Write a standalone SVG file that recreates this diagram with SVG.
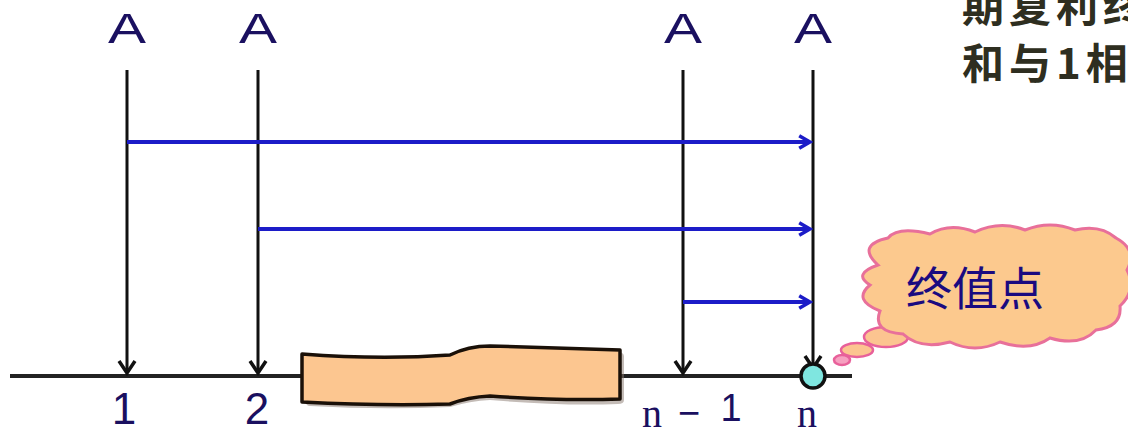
<svg xmlns="http://www.w3.org/2000/svg" width="1128" height="435" viewBox="0 0 1128 435">
<style>
.lbl{font-family:"Liberation Sans",Arial,sans-serif;fill:#1a1060;text-anchor:middle}
.ser{font-family:"Liberation Serif","Times New Roman",serif;fill:#1a1060;text-anchor:middle}
.vline{stroke:#111;stroke-width:3;fill:none}
.bline{stroke:#1c1cc8;stroke-width:4;fill:none}
.cjk{font-family:"Noto Sans CJK SC",sans-serif}
</style>
<defs>
<marker id="ab" viewBox="0 0 20 20" refX="17" refY="10" markerWidth="20" markerHeight="20" markerUnits="userSpaceOnUse" orient="auto">
<path d="M5,2 L17,10 L5,18" fill="none" stroke="#111" stroke-width="3.5"/>
</marker>
<marker id="ablue" viewBox="0 0 20 20" refX="17" refY="10" markerWidth="18" markerHeight="18" markerUnits="userSpaceOnUse" orient="auto">
<path d="M5,3 L17,10 L5,17" fill="none" stroke="#1c1cc8" stroke-width="4"/>
</marker>
</defs>
<rect width="1128" height="435" fill="#ffffff"/>

<g id="axis">
<line x1="10" y1="376" x2="852" y2="376" stroke="#222" stroke-width="4"/>
</g>

<g id="connectors">
<line class="vline" x1="127" y1="70" x2="127" y2="373" marker-end="url(#ab)"/>
<line class="vline" x1="258" y1="70" x2="258" y2="373" marker-end="url(#ab)"/>
<line class="vline" x1="683" y1="70" x2="683" y2="373" marker-end="url(#ab)"/>
<line class="vline" x1="813" y1="70" x2="813" y2="368" marker-end="url(#ab)"/>
<line class="bline" x1="127" y1="142" x2="810" y2="142" marker-end="url(#ablue)"/>
<line class="bline" x1="258" y1="229" x2="810" y2="229" marker-end="url(#ablue)"/>
<line class="bline" x1="683" y1="302" x2="810" y2="302" marker-end="url(#ablue)"/>
</g>

<g id="gap">
<path d="M306,358 Q306,355 310,355 Q380,362 450,356 Q470,349 490,348 L615,351 Q624,352 624,356 L624,400 Q624,404 618,404 Q560,406 490,400 Q470,401 450,407 Q380,410 310,406 Q306,406 306,402 Z" fill="#8a7a70" opacity="0.5"/>
<path d="M302,354 Q380,360 450,355 Q468,346 490,346 L620,350 L620,399 Q560,401 490,396 Q468,397 450,404 Q380,406 302,402 Z" fill="#fcc690" stroke="#1a1008" stroke-width="3.5" stroke-linejoin="round"/>
</g>

<g id="pointN">
<circle cx="813" cy="376" r="12" fill="#7fe6e0" stroke="#111" stroke-width="3.5"/>
</g>

<g id="labelsTop">
<text class="lbl" x="127" y="43" font-size="42" textLength="38" lengthAdjust="spacingAndGlyphs">A</text>
<text class="lbl" x="258" y="43" font-size="42" textLength="38" lengthAdjust="spacingAndGlyphs">A</text>
<text class="lbl" x="683" y="43" font-size="42" textLength="38" lengthAdjust="spacingAndGlyphs">A</text>
<text class="lbl" x="813" y="43" font-size="42" textLength="38" lengthAdjust="spacingAndGlyphs">A</text>
</g>

<g id="labelsBottom">
<text class="lbl" x="124" y="424" font-size="44">1</text>
<text class="lbl" x="257" y="424" font-size="44">2</text>
<text class="ser" x="652" y="427" font-size="40">n</text>
<text class="lbl" x="689" y="426" font-size="38">−</text>
<text class="lbl" x="731" y="421" font-size="38">1</text>
<text class="ser" x="807" y="427" font-size="40">n</text>
</g>

<g id="cloud">
<ellipse cx="842" cy="360" rx="8" ry="5" fill="#f6a0c0" stroke="#e8609a" stroke-width="2.5"/>
<ellipse cx="857" cy="350" rx="16" ry="7" fill="#fcc490" stroke="#e8609a" stroke-width="2.5"/>
<ellipse cx="886" cy="337" rx="22" ry="10" fill="#fcc490" stroke="#e8609a" stroke-width="2.5"/>
<path d="M878,265 Q856,245 888,238 Q898,226 930,234 Q950,222 975,232 Q1000,220 1025,230 Q1050,220 1075,230 Q1100,224 1116,238 Q1138,250 1127,270 Q1137,290 1120,306 Q1122,327 1096,330 Q1080,347 1050,338 Q1030,352 1000,342 Q975,354 950,342 Q920,350 903,334 Q872,332 880,311 Q852,300 870,285 Q852,274 878,265 Z" fill="#fcc98e" stroke="#e8709a" stroke-width="3"/>
<text class="cjk" x="975" y="305" font-size="46" fill="#1a0a80" text-anchor="middle">终值点</text>
</g>

<g id="note">
<text class="cjk" x="962" y="22" font-size="42" font-weight="bold" fill="#2e2e20" letter-spacing="5">期复利终</text>
<text class="cjk" x="962" y="79" font-size="42" font-weight="bold" fill="#2e2e20" letter-spacing="5">和与1相</text>
</g>
</svg>
